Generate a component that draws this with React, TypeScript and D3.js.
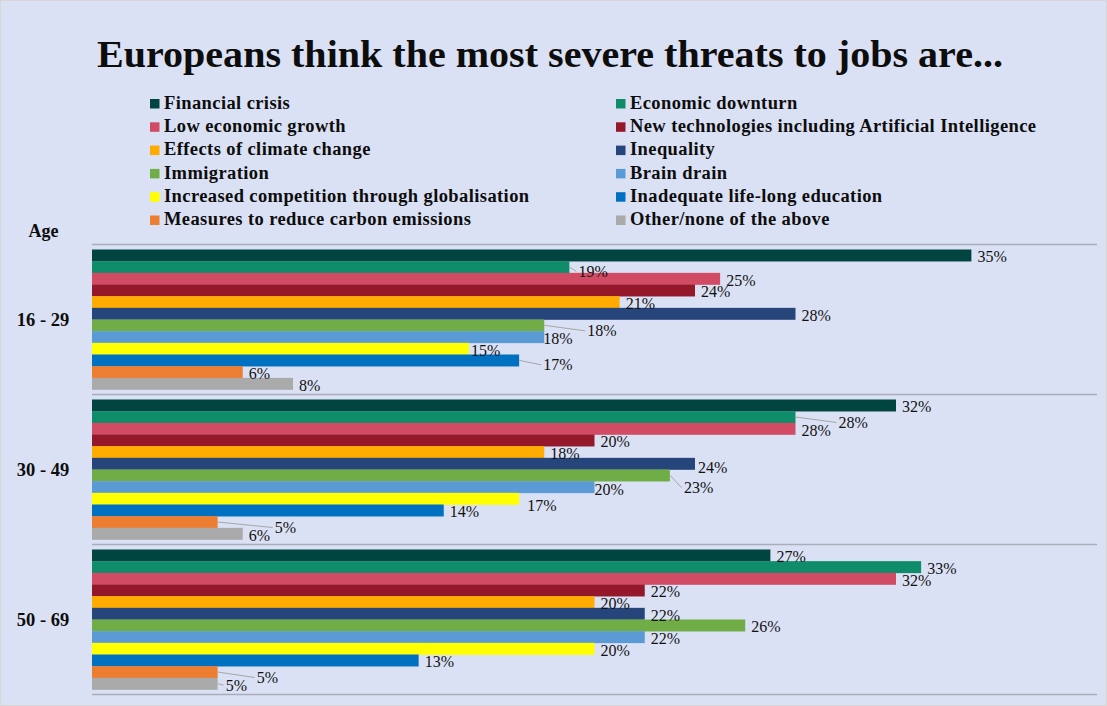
import * as d3 from "d3";
import React from "react";

// categories (age groups) and the twelve threat series
const ageGroups = ["16 - 29", "30 - 49", "50 - 69"];

const seriesNames = [
  "Financial crisis",
  "Economic downturn",
  "Low economic growth",
  "New technologies including Artificial Intelligence",
  "Effects of climate change",
  "Inequality",
  "Immigration",
  "Brain drain",
  "Increased competition through globalisation",
  "Inadequate life-long education",
  "Measures to reduce carbon emissions",
  "Other/none of the above",
];

const seriesColors = [
  "#02443f",
  "#0f8d6b",
  "#d14b64",
  "#94182a",
  "#ffab00",
  "#26457a",
  "#70ad47",
  "#5b9bd5",
  "#ffff00",
  "#0070c0",
  "#ed7d31",
  "#aaaaaa",
];

// share per series, one array per age group (percent)
const values1629 = [35, 19, 25, 24, 21, 28, 18, 18, 15, 17, 6, 8];
const values3049 = [32, 28, 28, 20, 18, 24, 23, 20, 17, 14, 5, 6];
const values5069 = [27, 33, 32, 22, 20, 22, 26, 22, 20, 13, 5, 5];
const groupValues = [values1629, values3049, values5069];

// hand-moved data labels (as in the original Excel chart): [dx, dy, leaderLine]
const labelNudges: Record<string, [number, number, boolean]> = {
  "0:1": [3, 3, true],
  "0:6": [37, 4, true],
  "0:7": [-7, 0, false],
  "0:8": [-4, 0, false],
  "0:9": [18, 3, true],
  "1:1": [37, 4, true],
  "1:5": [-3, 2, false],
  "1:6": [8, 11, true],
  "1:7": [-6, 1, false],
  "1:8": [2, 5, false],
  "1:10": [51, 4, true],
  "2:10": [33, 4, true],
  "2:11": [2, 0, true],
};

const W = 1107;
const H = 706;
const serif = "'Liberation Serif', 'Times New Roman', serif";

export default function App() {
  const margin = { left: 92, right: 10, top: 244.5, bottom: 11.5 };

  const x = d3
    .scaleLinear()
    .domain([0, 40])
    .range([margin.left, W - margin.right]);

  const y = d3
    .scaleBand<string>()
    .domain(ageGroups)
    .range([margin.top, H - margin.bottom]);

  // bars inside each band, 5px gap top and bottom
  const yInner = d3
    .scaleBand<number>()
    .domain(d3.range(seriesNames.length))
    .range([5, y.bandwidth() - 5]);

  const gridYs = ageGroups.map((g) => y(g)!).concat([y(ageGroups[2])! + y.bandwidth()]);

  const legendRowH = 23.3;

  return (
    <svg
      width={W}
      height={H}
      style={{ position: "absolute", left: 0, top: 0 }}
      fontFamily={serif}
    >
      <rect x={0.5} y={0.5} width={W - 1} height={H - 1} fill="#dbe1f4" stroke="#d6d6d6" />

      <text
        x={550}
        y={67}
        textAnchor="middle"
        fontSize={37}
        fontWeight="bold"
        fill="#0d0d0d"
        textLength={906}
        lengthAdjust="spacingAndGlyphs"
      >
        Europeans think the most severe threats to jobs are...
      </text>

      {/* legend, two columns filled row by row */}
      {seriesNames.map((name, i) => {
        const col = i % 2;
        const row = Math.floor(i / 2);
        const lx = col === 0 ? 150 : 616;
        const ly = 99 + row * legendRowH;
        return (
          <g key={name} transform={`translate(${lx},${ly})`}>
            <rect x={0} y={0} width={9.5} height={9.5} fill={seriesColors[i]} />
            <text
              x={14}
              y={9.8}
              fontSize={18.5}
              fontWeight="bold"
              letterSpacing={0.4}
              fill="#0d0d0d"
            >
              {name}
            </text>
          </g>
        );
      })}

      <text x={43.5} y={237} textAnchor="middle" fontSize={18} fontWeight="bold" fill="#0d0d0d">
        Age
      </text>

      {gridYs.map((gy, i) => (
        <line key={i} x1={x(0)} x2={x(40)} y1={gy} y2={gy} stroke="#a9adb9" strokeWidth={1.3} />
      ))}

      {ageGroups.map((g, gi) => (
        <g key={g} transform={`translate(0,${y(g)})`}>
          <text
            x={43}
            y={y.bandwidth() / 2}
            dy="0.35em"
            textAnchor="middle"
            fontSize={18.5}
            fontWeight="bold"
            fill="#0d0d0d"
            style={{ whiteSpace: "pre" }}
          >
            {g}
          </text>
          {groupValues[gi].map((v, si) => (
            <rect
              key={si}
              x={x(0)}
              y={yInner(si)}
              width={x(v) - x(0)}
              height={yInner.bandwidth() + 0.3}
              fill={seriesColors[si]}
            />
          ))}
          {groupValues[gi].map((v, si) => {
            const nudge = labelNudges[`${gi}:${si}`] || [0, 0, false];
            const cy = yInner(si)! + yInner.bandwidth() / 2;
            const lx = x(v) + 6 + nudge[0];
            const ly = cy + 1.5 + nudge[1];
            return (
              <g key={si}>
                {nudge[2] && (
                  <line
                    x1={x(v)}
                    y1={cy}
                    x2={lx - 2}
                    y2={ly}
                    stroke="#a6a6a6"
                    strokeWidth={1}
                  />
                )}
                <text x={lx} y={ly} dy="0.35em" fontSize={16} fill="#111">
                  {v}%
                </text>
              </g>
            );
          })}
        </g>
      ))}
    </svg>
  );
}
